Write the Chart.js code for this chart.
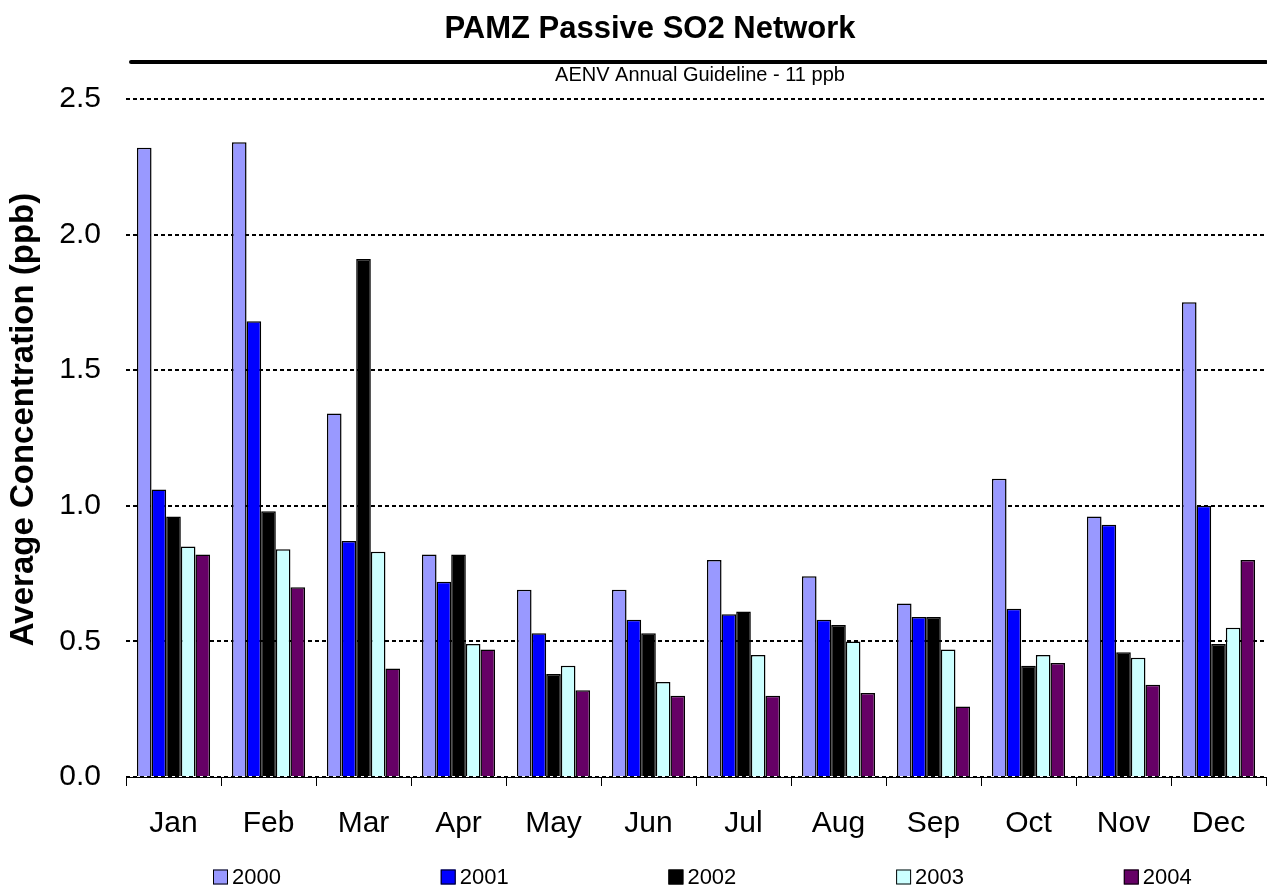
<!DOCTYPE html>
<html>
<head>
<meta charset="utf-8">
<script src="https://cdn.jsdelivr.net/npm/chart.js@4"></script>
<style>
  html, body { margin: 0; padding: 0; background: #ffffff; }
  #wrap { width: 1267px; height: 888px; position: relative; }
</style>
</head>
<body>
<div id="wrap"><canvas id="c" width="1267" height="888"></canvas></div>
<script>
const months = ['Jan','Feb','Mar','Apr','May','Jun','Jul','Aug','Sep','Oct','Nov','Dec'];
const years = ['2000','2001','2002','2003','2004'];
const s2000 = [2.32, 2.34, 1.34, 0.82, 0.69, 0.69, 0.80, 0.74, 0.64, 1.10, 0.96, 1.75];
const s2001 = [1.06, 1.68, 0.87, 0.72, 0.53, 0.58, 0.60, 0.58, 0.59, 0.62, 0.93, 1.00];
const s2002 = [0.96, 0.98, 1.91, 0.82, 0.38, 0.53, 0.61, 0.56, 0.59, 0.41, 0.46, 0.49];
const s2003 = [0.85, 0.84, 0.83, 0.49, 0.41, 0.35, 0.45, 0.50, 0.47, 0.45, 0.44, 0.55];
const s2004 = [0.82, 0.70, 0.40, 0.47, 0.32, 0.30, 0.30, 0.31, 0.26, 0.42, 0.34, 0.80];
const yTicks = [0, 0.5, 1.0, 1.5, 2.0, 2.5];
const guidelineLevel = 2.636;  // where the guideline is drawn on the axis
const guidelineLabel = 'AENV Annual Guideline - 11 ppb';
const chartTitle = 'PAMZ Passive SO2 Network';
const yTitle = 'Average Concentration (ppb)';

const colors = ['#9999FF', '#0000FF', '#000000', '#CCFFFF', '#660066'];
const series = [s2000, s2001, s2002, s2003, s2004];
const FONT = "'Liberation Sans', Arial, sans-serif";

const overlay = {
  id: 'overlay',
  afterDraw(chart) {
    const ctx = chart.ctx;
    const ca = chart.chartArea;
    const y = chart.scales.y;
    ctx.save();
    // title
    ctx.fillStyle = '#000';
    ctx.font = 'bold 31px ' + FONT;
    ctx.textAlign = 'center';
    ctx.textBaseline = 'middle';
    ctx.fillText(chartTitle, 650, 29);
    // guideline
    const gy = y.getPixelForValue(guidelineLevel);
    ctx.strokeStyle = '#000';
    ctx.lineWidth = 4;
    ctx.lineCap = 'round';
    ctx.beginPath();
    ctx.moveTo(ca.left + 5, gy);
    ctx.lineTo(ca.right, gy);
    ctx.stroke();
    ctx.font = '20px ' + FONT;
    ctx.fillText(guidelineLabel, (ca.left + ca.right) / 2 + 4, gy + 13);
    // legend
    ctx.font = '22px ' + FONT;
    ctx.textAlign = 'left';
    ctx.lineWidth = 1;
    ctx.lineCap = 'butt';
    const ly = 877;
    chart.data.datasets.forEach((ds, i) => {
      const lx = 213 + i * 227.7;
      ctx.fillStyle = ds.backgroundColor;
      ctx.fillRect(lx, ly - 7.5, 15, 15);
      ctx.strokeStyle = '#000';
      ctx.strokeRect(lx + 0.5, ly - 7, 14, 14);
      ctx.fillStyle = '#000';
      ctx.fillText(ds.label, lx + 19, ly + 1);
    });
    ctx.restore();
  }
};

new Chart(document.getElementById('c'), {
  type: 'bar',
  data: {
    labels: months,
    datasets: years.map((yr, i) => ({
      label: yr,
      data: series[i],
      backgroundColor: colors[i],
      borderColor: '#000000',
      borderWidth: 1.5,
      borderSkipped: 'bottom',
      categoryPercentage: 0.77,
      barPercentage: 1.0
    }))
  },
  options: {
    responsive: false,
    animation: false,
    devicePixelRatio: 1,
    layout: { padding: { top: 62, bottom: 0, left: 0, right: 1 } },
    plugins: {
      legend: { display: false },
      title: { display: false },
      tooltip: { enabled: false }
    },
    scales: {
      x: {
        afterFit(scale) { scale.height = 111; },
        grid: {
          display: true,
          drawOnChartArea: false,
          drawTicks: true,
          tickLength: 9,
          color: '#000',
          tickColor: '#000',
          lineWidth: 1
        },
        border: { display: true, color: '#000', width: 1 },
        ticks: {
          color: '#000',
          font: { family: FONT, size: 30 },
          padding: 20,
          maxRotation: 0
        }
      },
      y: {
        min: 0,
        max: guidelineLevel,
        afterFit(scale) { scale.width = 126; },
        afterBuildTicks(scale) { scale.ticks = yTicks.map(v => ({ value: v })); },
        grid: {
          color: '#000',
          lineWidth: 2,
          drawTicks: false
        },
        border: { display: false, dash: [4, 3] },
        ticks: {
          color: '#000',
          font: { family: FONT, size: 30 },
          padding: 25,
          callback: v => Number(v).toFixed(1)
        },
        title: {
          display: true,
          text: yTitle,
          color: '#000',
          font: { family: FONT, size: 33, weight: 'bold' },
          padding: { top: 4, bottom: 0 }
        }
      }
    }
  },
  plugins: [overlay]
});
</script>
</body>
</html>
